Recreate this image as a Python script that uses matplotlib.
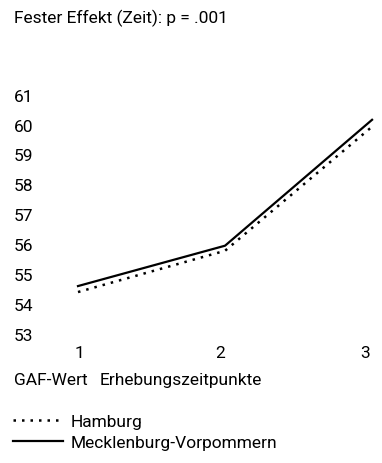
import matplotlib
matplotlib.use("Agg")
import matplotlib.pyplot as plt
from matplotlib.transforms import ScaledTranslation

plt.rcParams['font.family'] = ['Roboto', 'DejaVu Sans']

zeitpunkte = [1, 2, 3]
hamburg = [54.4, 55.78, 59.93]
mv = [54.6, 55.95, 60.16]
y_ticks = [53, 54, 55, 56, 57, 58, 59, 60, 61]

W, H = 382, 464
FS = 12.5
fig = plt.figure(figsize=(W / 100, H / 100), dpi=100)
# axes in pixel coords: left 60, right 380, top 90, bottom 340
ax = fig.add_axes([60 / W, 1 - 340 / H, 320 / W, 250 / H])

ax.plot(zeitpunkte, hamburg, color='black', lw=1.8, linestyle=(0, (1, 2.4)), label='Hamburg')
ax.plot(zeitpunkte, mv, color='black', lw=1.6, label='Mecklenburg-Vorpommern')

ax.set_xlim(0.8776, 3.054)
ax.set_ylim(52.83, 61.19)
ax.set_xticks(zeitpunkte)
ax.set_yticks(y_ticks)
for s in ax.spines.values():
    s.set_visible(False)
ax.tick_params(axis='both', length=0, labelsize=FS)
ax.tick_params(axis='y', pad=46 * 0.72)
ax.tick_params(axis='x', pad=4)
for lab in ax.get_yticklabels():
    lab.set_horizontalalignment('left')
# x labels sit a bit left of the data points in the original
for lab, dx in zip(ax.get_xticklabels(), [1, -5, -7]):
    lab.set_transform(lab.get_transform() + ScaledTranslation(dx / 100, 0, fig.dpi_scale_trans))

fig.text(14 / W, 1 - 18 / H, 'Fester Effekt (Zeit): p = .001', fontsize=FS, va='center', ha='left')
fig.text(14 / W, 1 - 381 / H, 'GAF-Wert', fontsize=FS, va='center', ha='left')
fig.text(100 / W, 1 - 381 / H, 'Erhebungszeitpunkte', fontsize=FS, va='center', ha='left')

leg = fig.legend(loc='upper left', bbox_to_anchor=(13 / W, 1 - 415 / H), frameon=False,
                 fontsize=FS, handlelength=2.9, handletextpad=0.4, labelspacing=0.35,
                 borderaxespad=0, borderpad=0)

fig.savefig('out.png', dpi=100)
